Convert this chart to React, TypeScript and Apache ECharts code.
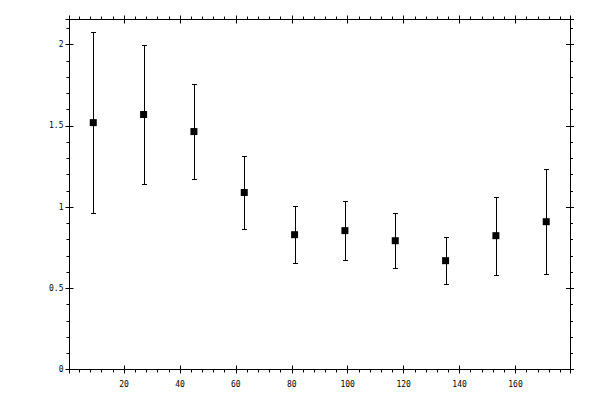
import * as React from "react";
import * as echarts from "echarts";

const binCenters = [9, 27, 45, 63, 81, 99, 117, 135, 153, 171];
const means = [1.52, 1.57, 1.465, 1.09, 0.83, 0.855, 0.793, 0.67, 0.824, 0.91];
const errors = [0.555, 0.43, 0.295, 0.225, 0.175, 0.18, 0.17, 0.145, 0.24, 0.325];

const xRange = [0.5, 179.5];
const yRange = [0, 2.155];

const labelFont = {
  color: "#000",
  fontSize: 8,
  fontFamily: "DejaVu Sans Mono",
};

function xAxisDef(position: "bottom" | "top", inner: boolean, labels: boolean) {
  return {
    type: "value",
    position,
    min: xRange[0],
    max: xRange[1],
    minInterval: 20,
    maxInterval: 20,
    axisLine: { show: !inner, onZero: false, lineStyle: { color: "#000", width: 1 } },
    axisTick: { show: true, inside: inner, length: 4, lineStyle: { color: "#000", width: 1 } },
    minorTick: {
      show: !inner,
      splitNumber: 5,
      length: 3,
      lineStyle: { color: "#000", width: 1 },
    },
    axisLabel: {
      show: labels,
      showMinLabel: false,
      showMaxLabel: false,
      margin: 11,
      ...labelFont,
    },
    splitLine: { show: false },
  };
}

function yAxisDef(position: "left" | "right", inner: boolean, labels: boolean) {
  return {
    type: "value",
    position,
    min: yRange[0],
    max: yRange[1],
    interval: 0.5,
    axisLine: { show: !inner, onZero: false, lineStyle: { color: "#000", width: 1 } },
    axisTick: { show: true, inside: inner, length: 4, lineStyle: { color: "#000", width: 1 } },
    minorTick: {
      show: !inner,
      splitNumber: 5,
      length: 3,
      lineStyle: { color: "#000", width: 1 },
    },
    axisLabel: {
      show: labels,
      showMaxLabel: false,
      margin: 6,
      ...labelFont,
    },
    splitLine: { show: false },
  };
}

export default function App() {
  const chartRef = React.useRef<HTMLDivElement | null>(null);

  React.useEffect(() => {
    if (!chartRef.current) return;
    const chart = echarts.init(chartRef.current, null, { renderer: "svg" });

    const barData = binCenters.map((x, i) => [x, means[i] - errors[i], means[i] + errors[i]]);
    const pointData = binCenters.map((x, i) => [x, means[i]]);

    chart.setOption({
      animation: false,
      backgroundColor: "#fff",
      grid: { left: 69.5, right: 30, top: 19.5, bottom: 30.5 },
      xAxis: [
        xAxisDef("bottom", false, true),
        xAxisDef("bottom", true, false),
        xAxisDef("top", false, false),
        xAxisDef("top", true, false),
      ],
      yAxis: [
        yAxisDef("left", false, true),
        yAxisDef("left", true, false),
        yAxisDef("right", false, false),
        yAxisDef("right", true, false),
      ],
      series: [
        {
          type: "custom",
          xAxisIndex: 0,
          yAxisIndex: 0,
          data: barData,
          encode: { x: 0, y: [1, 2] },
          renderItem: (_params: any, api: any) => {
            const x = api.value(0);
            const lo = api.coord([x, api.value(1)]);
            const hi = api.coord([x, api.value(2)]);
            // snap to pixel centres so the 1px strokes stay crisp
            const px = Math.round(lo[0]) + 0.5;
            const yLo = Math.round(lo[1]) + 0.5;
            const yHi = Math.round(hi[1]) + 0.5;
            const cap = 2.5;
            const style = { stroke: "#000", lineWidth: 1 };
            return {
              type: "group",
              children: [
                { type: "line", shape: { x1: px, y1: yLo, x2: px, y2: yHi }, style },
                { type: "line", shape: { x1: px - cap, y1: yHi, x2: px + cap, y2: yHi }, style },
                { type: "line", shape: { x1: px - cap, y1: yLo, x2: px + cap, y2: yLo }, style },
              ],
            };
          },
          z: 2,
        },
        {
          type: "scatter",
          xAxisIndex: 0,
          yAxisIndex: 0,
          data: pointData,
          symbol: "rect",
          symbolSize: 7,
          itemStyle: { color: "#000", opacity: 1 },
          z: 3,
        },
      ],
    });

    return () => {
      chart.dispose();
    };
  }, []);

  return (
    <div
      ref={chartRef}
      style={{ position: "fixed", left: 0, top: 0, width: 600, height: 400 }}
    />
  );
}
